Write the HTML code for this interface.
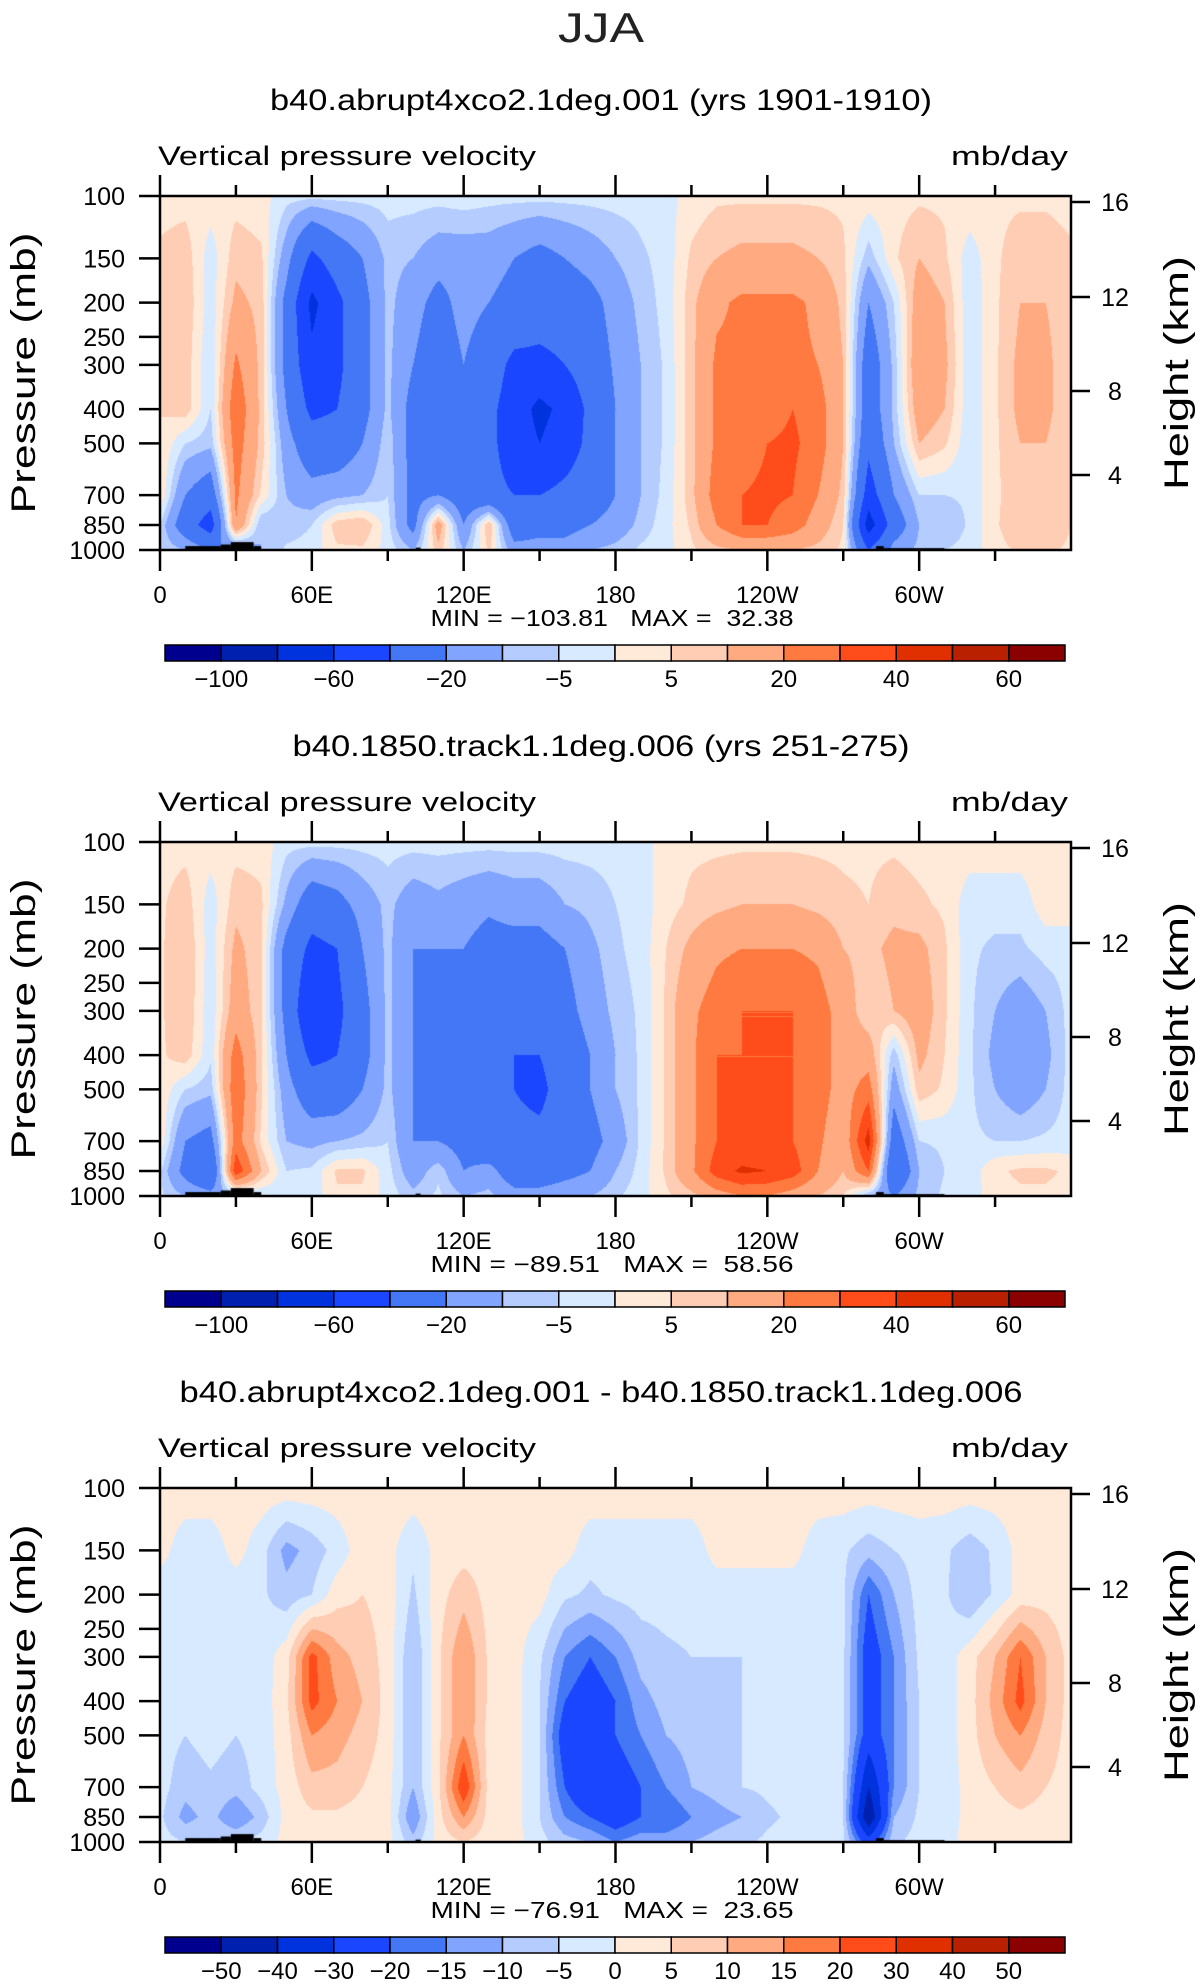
<!DOCTYPE html>
<html><head><meta charset="utf-8"><style>
html,body{margin:0;padding:0;background:#fff}
#root{position:relative;width:1203px;height:1987px;overflow:hidden;font-family:"Liberation Sans",sans-serif}
canvas{position:absolute}
svg{position:absolute;left:0;top:0}
</style></head><body>
<div id="root">
<svg id="ax" width="1203" height="1987"></svg>
</div>
<script>
const PLEVS=[100,150,200,300,400,500,700,850,1000];
const COLORS=["#00008e","#0020b0","#0033dd","#1a46ff","#4477f5","#80a4ff","#b4ccff","#d8eaff","#ffe9d9","#ffcdb4","#ffaa80","#ff7a40","#ff4c1a","#e03000","#b82000","#8b0000"];
const LEVELS_A=[-100,-80,-60,-40,-20,-10,-5,0,5,10,20,30,40,50,60];
const LABELS_A=["-100","","-60","","-20","","-5","","5","","20","","40","","60"];
const LEVELS_B=[-50,-40,-30,-20,-15,-10,-5,0,5,10,15,20,30,40,50];
const LABELS_B=["-50","-40","-30","-20","-15","-10","-5","0","5","10","15","20","30","40","50"];
const TITLES=["b40.abrupt4xco2.1deg.001 (yrs 1901-1910)","b40.1850.track1.1deg.006 (yrs 251-275)","b40.abrupt4xco2.1deg.001 - b40.1850.track1.1deg.006"];
const TITLE_W=[662,617,843];
const MINS=["-103.81","-89.51","-76.91"];
const MAXS=["32.38","58.56","23.65"];
const P_TICKS=[100,150,200,250,300,400,500,700,850,1000];
const H_TICKS=[16,12,8,4];
const LON_LABELS=["0","60E","120E","180","120W","60W"];
const F1=[
[3,3,3,3,2,-3,-3,-3,-3,-3,-3,-3,-2,-3,-3,-3,-3,-3,-3,-3,-2,2,4,4,4,4,4,4,3,3,4,4,4,4,4,4,3],
[6,8,-3,8,6,-15,-45,-30,-20,-8,-10,-15,-15,-15,-20,-25,-20,-15,-10,-6,-3,6,10,12,12,12,10,6,-8,4,10,6,-3,4,8,8,6],
[6,9,-3,12,8,-25,-65,-45,-25,-8,-15,-25,-15,-20,-25,-30,-30,-25,-15,-8,-3,8,18,22,22,22,18,8,-20,-5,15,10,-4,4,10,10,6],
[5,8,-5,22,8,-25,-55,-45,-25,-8,-20,-30,-20,-30,-45,-45,-40,-30,-18,-10,-4,8,22,22,22,22,20,10,-30,-8,18,12,-4,4,12,12,5],
[5,8,-5,28,8,-20,-45,-40,-25,-8,-25,-30,-25,-35,-50,-65,-55,-35,-20,-10,-4,8,22,22,25,30,25,10,-30,-8,15,10,-4,4,12,12,5],
[5,-5,-8,25,8,-15,-30,-30,-20,-6,-25,-30,-25,-35,-50,-60,-50,-35,-20,-10,-4,8,22,25,30,32,25,10,-35,-10,10,6,-4,4,10,10,5],
[5,-20,-30,22,4,-10,-15,-12,-10,-5,-25,-20,-30,-35,-40,-40,-35,-30,-20,-10,-3,8,25,30,32,30,20,8,-50,-20,-5,-5,-4,4,8,8,5],
[-5,-30,-50,20,-10,-8,-5,8,10,-3,-25,15,-20,10,-30,-25,-25,-20,-15,-8,-2,6,20,30,30,25,15,5,-70,-30,-10,-10,-4,4,10,10,5],
[-5,-10,-20,-20,-10,-4,-3,4,4,-2,-10,8,-10,6,-15,-15,-15,-10,-8,-4,-2,4,8,10,10,10,8,4,-40,-15,-8,-5,-3,3,6,6,4]];
const F2=[
[3,3,3,3,3,-3,-3,-3,-3,-3,-3,-3,-3,-3,-3,-3,-3,-3,-3,-3,3,4,4,4,4,4,4,4,4,4,3,3,3,3,3,3,3],
[4,8,-3,8,6,-12,-30,-25,-15,-8,-15,-12,-15,-18,-15,-15,-10,-8,-5,-3,3,6,8,10,10,10,8,6,5,8,6,4,-3,-3,-3,3,3],
[4,10,-3,12,6,-25,-45,-40,-20,-8,-20,-20,-20,-25,-25,-25,-20,-12,-6,-3,5,12,18,20,20,20,18,10,8,12,12,6,-4,-6,-6,-3,-3],
[4,10,-4,15,6,-25,-60,-45,-25,-8,-20,-25,-25,-35,-40,-35,-25,-15,-8,-4,6,18,25,30,30,30,25,15,5,10,15,6,-4,-10,-15,-10,-3],
[4,8,-4,25,6,-20,-45,-40,-25,-8,-20,-30,-25,-35,-40,-40,-30,-20,-10,-4,6,18,30,30,30,30,25,15,15,-8,12,5,-4,-12,-20,-12,-3],
[4,-5,-8,28,6,-15,-30,-30,-20,-8,-20,-30,-25,-35,-40,-45,-30,-20,-10,-4,6,18,30,30,30,30,25,15,25,-15,8,4,-4,-10,-15,-10,-3],
[4,-20,-25,25,4,-10,-12,-10,-8,-5,-20,-20,-25,-35,-35,-35,-30,-25,-15,-4,6,18,30,30,30,30,22,12,45,-30,-5,-4,-4,-5,-5,-4,-3],
[-4,-25,-40,38,10,-5,-4,6,6,-3,-15,-6,-20,-15,-30,-30,-25,-20,-10,-3,6,18,35,42,40,35,20,10,30,-40,-10,-5,-3,4,6,6,4],
[-4,-10,-15,-10,-5,-3,-3,4,4,-2,-8,-4,-10,-8,-15,-15,-12,-10,-6,-2,4,8,15,20,20,15,10,5,-10,-20,-8,-4,-3,3,4,4,3]];
const F3=[
[3,3,3,3,3,3,3,3,3,3,3,3,3,3,3,3,3,3,3,3,3,3,3,3,3,3,3,3,3,3,3,3,3,3,3,3,3],
[2,-3,-3,2,-3,-12,-8,-3,3,2,-4,2,3,3,3,2,2,-3,-3,-3,-3,-3,2,2,2,2,-3,-4,-8,-5,-3,-4,-8,-4,2,2,2],
[-3,-3,-3,-3,-4,-8,-5,3,5,3,-6,3,8,3,2,2,-4,-6,-4,-3,-3,-3,-3,-3,-3,-3,-3,-4,-20,-10,-3,-4,-10,-4,2,3,2],
[-3,-4,-3,-4,-3,3,22,12,8,3,-10,4,15,4,2,-4,-15,-20,-15,-8,-6,-5,-5,-5,-4,-3,-3,-4,-25,-15,-4,-3,3,10,20,10,3],
[-3,-5,-3,-4,-3,4,22,15,10,3,-10,4,15,4,2,-5,-20,-25,-20,-12,-8,-6,-6,-5,-4,-3,-2,-4,-25,-15,-5,-3,3,12,22,10,3],
[-3,-5,-3,-5,-3,3,15,12,8,3,-10,4,15,3,2,-5,-25,-30,-20,-15,-10,-8,-6,-5,-4,-3,-2,-4,-25,-15,-5,-3,3,10,15,8,3],
[-3,-8,-6,-8,-3,2,8,8,5,2,-10,4,25,3,2,-5,-20,-30,-25,-20,-15,-10,-8,-5,-4,-3,-2,-5,-40,-15,-5,-3,2,5,8,5,3],
[-4,-12,-8,-15,-8,2,4,4,3,2,-15,3,15,3,2,-5,-15,-20,-25,-20,-20,-15,-12,-10,-6,-4,-2,-5,-50,-10,-4,-3,2,3,4,3,2],
[-3,-5,-5,-5,-3,2,2,2,2,2,-8,2,5,2,2,-3,-8,-10,-15,-12,-12,-10,-8,-6,-4,-3,-2,-4,-25,-6,-3,-2,2,2,2,2,2]];
const FIELDS=[F1,F2,F3];
const TOPO=[[10,24,975],[24,28,965],[28,37,950],[37,40,975],[101,103,985],[283,286,975],[286,310,988]];

const X0=160,W=911,H=354,PY=[196,842,1488];
const root=document.getElementById('root');
const svg=document.getElementById('ax');
const NS='http://www.w3.org/2000/svg';
function xOf(lon){return X0+lon/360*W;}
function yOf(p,k){return PY[k]+(Math.log10(p)-2)*H;}
function el(tag,attrs,txt){const e=document.createElementNS(NS,tag);for(const a in attrs)e.setAttribute(a,attrs[a]);if(txt!==undefined)e.textContent=txt;svg.appendChild(e);return e;}
function txt(x,y,s,size,anchor,extra){return el('text',Object.assign({x:x,y:y,'font-size':size,'text-anchor':anchor||'middle','font-family':'Liberation Sans, sans-serif',fill:'#000'},extra||{}),s);}

function colorIdx(v,lev){let i=0;while(i<lev.length&&v>=lev[i])i++;return i;}
function hex(c){return [parseInt(c.substr(1,2),16),parseInt(c.substr(3,2),16),parseInt(c.substr(5,2),16)];}
const RGB=COLORS.map(hex);
const LP=PLEVS.map(p=>Math.log10(p));

function drawField(k){
  const cv=document.createElement('canvas');
  cv.width=W;cv.height=H;cv.style.left=X0+'px';cv.style.top=PY[k]+'px';
  
  
  root.insertBefore(cv,svg);
  const ctx=cv.getContext('2d');const img=ctx.createImageData(W,H);
  const g=FIELDS[k];const lev=k===2?LEVELS_B:LEVELS_A;
  for(let py=0;py<H;py++){
    const lp=2+(py+0.5)/H;let i=0;while(i<LP.length-2&&lp>LP[i+1])i++;
    const fy=Math.min(1,Math.max(0,(lp-LP[i])/(LP[i+1]-LP[i])));
    for(let px=0;px<W;px++){
      const lon=(px+0.5)/W*360;let j=Math.min(35,Math.floor(lon/10));const fx=lon/10-j;
      const v=(g[i][j]*(1-fx)+g[i][j+1]*fx)*(1-fy)+(g[i+1][j]*(1-fx)+g[i+1][j+1]*fx)*fy;
      const c=RGB[colorIdx(v,lev)];const o=(py*W+px)*4;
      img.data[o]=c[0];img.data[o+1]=c[1];img.data[o+2]=c[2];img.data[o+3]=255;
    }
  }
  ctx.putImageData(img,0,0);
  ctx.fillStyle='#000';
  TOPO.forEach(t=>{const x1=t[0]/360*W,x2=t[1]/360*W,y=(Math.log10(t[2])-2)*H;ctx.fillRect(x1,y,x2-x1,H-y);});
}

txt(601,42,'JJA',42,'middle',{'fill':'#222','textLength':86,'lengthAdjust':'spacingAndGlyphs',});
for(let k=0;k<3;k++){
  drawField(k);
  const top=PY[k],bot=PY[k]+H,d=646*k;
  txt(601,110+d,TITLES[k],30,'middle',{'textLength':TITLE_W[k],'lengthAdjust':'spacingAndGlyphs',});
  txt(158,165+d,'Vertical pressure velocity',27,'start',{'textLength':378,'lengthAdjust':'spacingAndGlyphs',});
  txt(1068,165+d,'mb/day',27,'end',{'textLength':117,'lengthAdjust':'spacingAndGlyphs',});
  el('rect',{x:X0,y:top,width:W,height:H,fill:'none',stroke:'#000','stroke-width':2.5,});
  for(let lon=0;lon<360;lon+=30){
    const x=xOf(lon),L=lon%60===0?21:11;
    el('line',{x1:x,y1:top,x2:x,y2:top-L,stroke:'#000','stroke-width':2.5,});
    el('line',{x1:x,y1:bot,x2:x,y2:bot+L,stroke:'#000','stroke-width':2.5,});
  }
  LON_LABELS.forEach((s,i)=>txt(xOf(i*60),bot+53,s,24,'middle',{}));
  P_TICKS.forEach(p=>{const y=yOf(p,k);
    el('line',{x1:X0,y1:y,x2:X0-21,y2:y,stroke:'#000','stroke-width':2.5,});
    txt(125,y+9,String(p),25,'end',{});});
  const HOFF=[6,101,195,279];
  H_TICKS.forEach((h,i)=>{const y=top+HOFF[i];
    el('line',{x1:X0+W,y1:y,x2:X0+W+19,y2:y,stroke:'#000','stroke-width':2.5,});
    txt(1115,y+9,String(h),25,'middle',{});});
  txt(0,0,'Pressure (mb)',34,'middle',{transform:'translate(35,'+(top+177)+') rotate(-90)','textLength':281,'lengthAdjust':'spacingAndGlyphs',});
  txt(0,0,'Height (km)',34,'middle',{transform:'translate(1188,'+(top+177)+') rotate(-90)','textLength':234,'lengthAdjust':'spacingAndGlyphs',});
  txt(612,bot+76,'MIN = '+MINS[k].replace('-','\u2212')+'   MAX =  '+MAXS[k],23,'middle',{'textLength':363,'lengthAdjust':'spacingAndGlyphs','style':'white-space:pre',});
  const cy=645+d,cx0=165,cw=900/16;
  COLORS.forEach((c,i)=>el('rect',{x:cx0+i*cw,y:cy,width:cw,height:16,fill:c,stroke:'#000','stroke-width':1.5,}));
  const labs=k===2?LABELS_B:LABELS_A;
  labs.forEach((s,i)=>{if(s)txt(cx0+(i+1)*cw,cy+42,s.replace('-','\u2212'),24,'middle',{});});
}
</script>
</body></html>
